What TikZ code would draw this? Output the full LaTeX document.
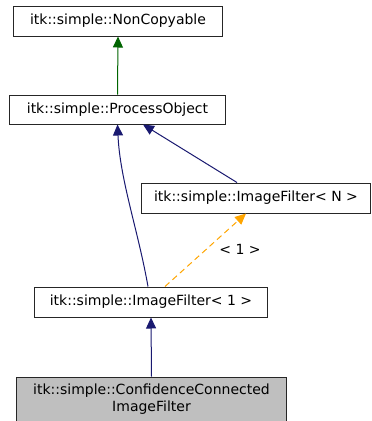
\documentclass[tikz,border=0pt]{standalone}
\usepackage{fontspec}
\setmainfont{DejaVu Sans}
\usetikzlibrary{arrows.meta}
\definecolor{navyc}{HTML}{191970}
\definecolor{greenc}{HTML}{006400}
\definecolor{orangec}{HTML}{FFA500}
\definecolor{greyc}{HTML}{BFBFBF}
\begin{document}
\begin{tikzpicture}[x=1bp,y=-1bp,
  box/.style={draw=black!85, line width=1bp, inner sep=0pt, anchor=center, font=\fontsize{14bp}{17bp}\selectfont, align=center},
  edge/.style={line width=1bp, -{Triangle[length=11bp,width=10bp]}},
  lbl/.style={font=\fontsize{14bp}{16bp}\selectfont, inner sep=0pt}]
\useasboundingbox (0,0) rectangle (372,421);
\node[box, minimum width=208bp, minimum height=30bp] (nc) at (118,21) {itk::simple::NonCopyable};
\node[box, minimum width=215bp, minimum height=29bp] (po) at (117.5,109.5) {itk::simple::ProcessObject};
\node[box, minimum width=228bp, minimum height=30bp] (ifn) at (256,198) {itk::simple::ImageFilter< N >};
\node[box, minimum width=232bp, minimum height=30bp] (if1) at (151,302) {itk::simple::ImageFilter< 1 >};
\node[box, fill=greyc, minimum width=270bp, minimum height=45bp] (cc) at (151.5,399.5) {itk::simple::ConfidenceConnected\\ImageFilter};
\draw[edge, greenc] (po.north) -- (nc.south);
\draw[edge, navyc] ([xshift=-3bp]if1.north) .. controls (138,230) and (120,180) .. (po.south);
\draw[edge, navyc] ([xshift=-19bp]ifn.north) -- ([xshift=25.5bp]po.south);
\draw[edge, orangec, dashed, dash pattern=on 6bp off 4bp] ([xshift=14bp]if1.north) -- ([xshift=-10bp]ifn.south);
\node[lbl] (l1) at (240,249) {< 1 >};
\draw[edge, navyc] (cc.north) -- (if1.south);
\end{tikzpicture}
\end{document}
